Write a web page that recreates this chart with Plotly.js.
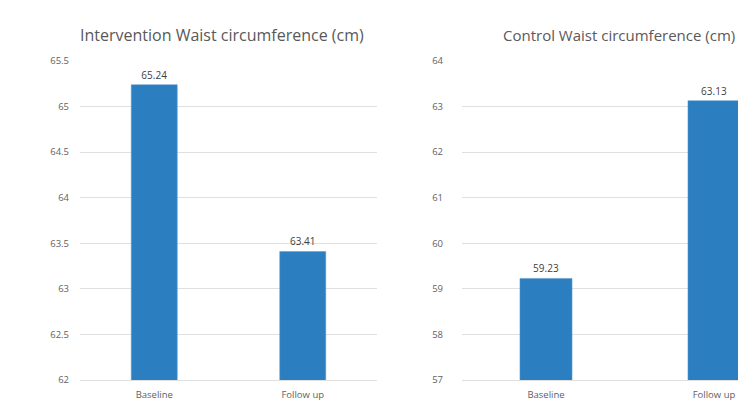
<!DOCTYPE html>
<html>
<head>
<meta charset="utf-8">
<script src="https://cdn.plot.ly/plotly-3.0.1.min.js"></script>
<style>
  html, body { margin: 0; padding: 0; background: #ffffff; overflow: hidden; width: 738px; height: 417px; }
  #chart { width: 820px; height: 417px; }
</style>
</head>
<body>
<div id="chart"></div>
<script>
// Waist circumference (cm), two groups
const categories = ['Baseline', 'Follow up'];
const interventionValues = [65.24, 63.41];
const controlValues = [59.23, 63.13];
const interventionTitle = 'Intervention Waist circumference (cm)';
const controlTitle = 'Control Waist circumference (cm)';

const W = 820, H = 417;
const barColor = '#2b7fc1';
const gridColor = '#e0e0e0';
const tickColor = '#5f5f5f';
const fontFamily = 'Open Sans, Noto Sans, sans-serif';

function barTrace(values, xa, ya) {
  return {
    type: 'bar',
    x: categories,
    y: values,
    xaxis: xa,
    yaxis: ya,
    marker: { color: barColor, line: { color: '#5a9bd0', width: 0.5 } },
    text: values.map(v => v.toFixed(2)),
    textposition: 'outside',
    textfont: { family: fontFamily, size: 10, color: '#404040' },
    cliponaxis: false,
    hoverinfo: 'x+y',
    showlegend: false
  };
}

const yDomain = [(H - 380) / H, (H - 61) / H];

const xAxisBase = {
  anchor: 'y',
  showline: true, linecolor: gridColor, linewidth: 1,
  ticks: '', ticklabelstandoff: 6,
  tickfont: { size: 9.5, color: tickColor },
  showgrid: false, fixedrange: true
};

const yAxisBase = {
  domain: yDomain,
  showgrid: true, gridcolor: gridColor, gridwidth: 1,
  zeroline: false, showline: false,
  ticks: '',
  tickfont: { size: 9.5, color: tickColor },
  fixedrange: true
};

const layout = {
  width: W,
  height: H,
  margin: { l: 0, r: 0, t: 0, b: 0 },
  paper_bgcolor: '#ffffff',
  plot_bgcolor: '#ffffff',
  bargap: 0.69,
  font: { family: fontFamily, color: tickColor },
  xaxis: Object.assign({}, xAxisBase, { domain: [80 / W, 377 / W], anchor: 'y' }),
  yaxis: Object.assign({}, yAxisBase, {
    anchor: 'x', range: [62, 65.5], dtick: 0.5, tick0: 62, ticklabelstandoff: 10
  }),
  xaxis2: Object.assign({}, xAxisBase, { domain: [462 / W, 798 / W], anchor: 'y2' }),
  yaxis2: Object.assign({}, yAxisBase, {
    anchor: 'x2', range: [57, 64], dtick: 1, tick0: 57, ticklabelstandoff: 18
  }),
  annotations: [
    {
      text: interventionTitle, xref: 'paper', yref: 'paper',
      x: 222 / W, y: (H - 35) / H, xanchor: 'center', yanchor: 'middle',
      showarrow: false, font: { family: fontFamily, size: 16, color: '#595959' }
    },
    {
      text: controlTitle, xref: 'paper', yref: 'paper',
      x: 501 / W, y: (H - 35) / H, xanchor: 'left', yanchor: 'middle',
      showarrow: false, font: { family: fontFamily, size: 15, color: '#595959' }
    }
  ]
};

Plotly.newPlot('chart', [
  barTrace(interventionValues, 'x', 'y'),
  barTrace(controlValues, 'x2', 'y2')
], layout, { displayModeBar: false, staticPlot: true });
</script>
</body>
</html>
